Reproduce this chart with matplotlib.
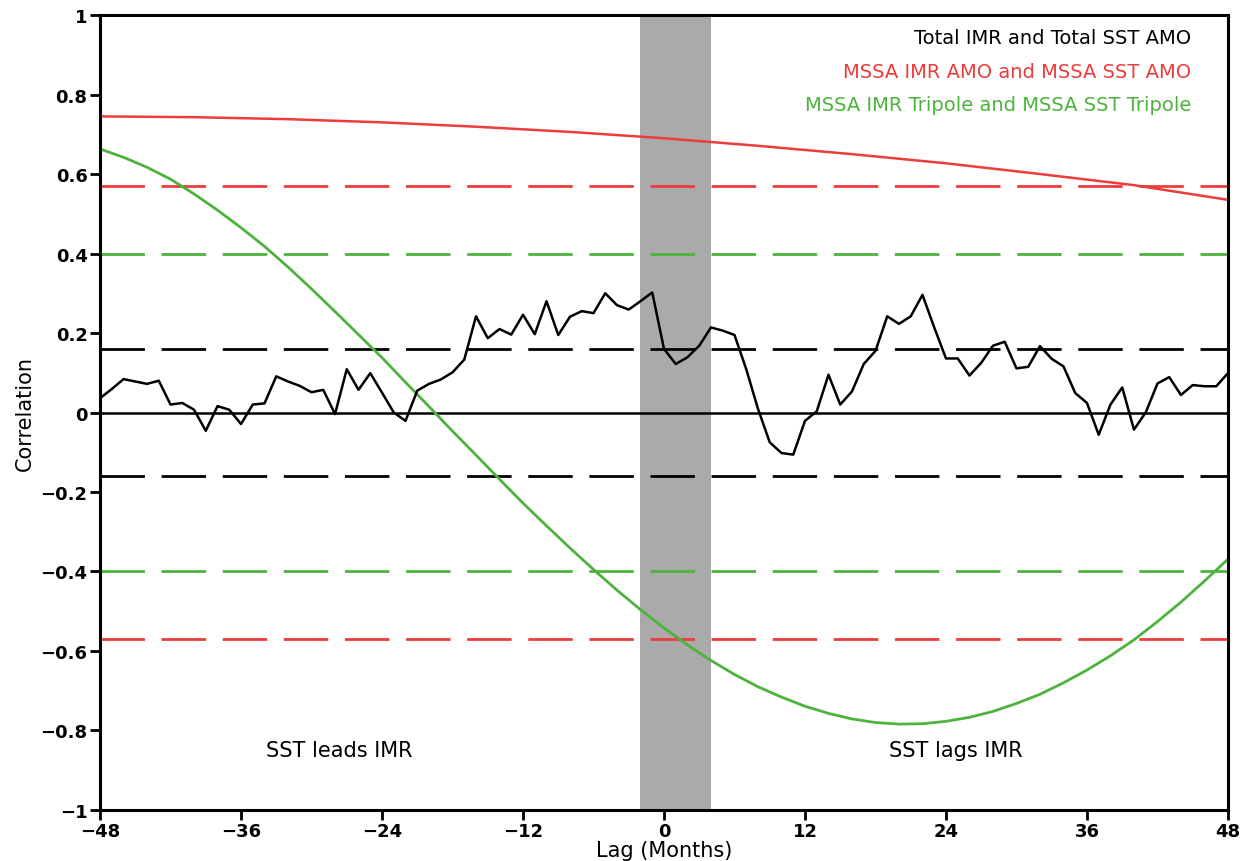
import numpy as np
import matplotlib
matplotlib.use("Agg")
import matplotlib.pyplot as plt
from matplotlib.ticker import FuncFormatter

# lag in months for the total correlation
lags_total = np.arange(-48, 49)
corr_total = [0.036, 0.059, 0.084, 0.078, 0.072, 0.080, 0.020, 0.024, 0.007, -0.046,
              0.016, 0.007, -0.029, 0.020, 0.023, 0.091, 0.078, 0.067, 0.051, 0.057,
              -0.004, 0.109, 0.057, 0.099, 0.050, 0.000, -0.021, 0.055, 0.072, 0.083,
              0.101, 0.133, 0.242, 0.187, 0.210, 0.196, 0.246, 0.197, 0.280, 0.195,
              0.241, 0.255, 0.250, 0.300, 0.270, 0.259, 0.280, 0.302, 0.160, 0.122,
              0.139, 0.168, 0.214, 0.206, 0.195, 0.109, 0.009, -0.075, -0.102, -0.106,
              -0.021, 0.003, 0.095, 0.020, 0.053, 0.122, 0.155, 0.242, 0.223, 0.242,
              0.296, 0.214, 0.136, 0.136, 0.093, 0.125, 0.168, 0.178, 0.111, 0.115,
              0.167, 0.135, 0.116, 0.049, 0.024, -0.056, 0.020, 0.063, -0.043, 0.000,
              0.073, 0.089, 0.044, 0.069, 0.066, 0.066, 0.099]

# MSSA AMO (smooth)
lags_amo = [-48, -40, -32, -24, -16, -8, 0, 8, 16, 24, 32, 40, 48]
corr_amo = [0.745, 0.743, 0.738, 0.730, 0.719, 0.706, 0.690, 0.671, 0.650, 0.627,
            0.600, 0.572, 0.535]

# MSSA tripole (smooth), every 2 months
lags_tri = np.arange(-48, 49, 2)
corr_tri = [0.663, 0.642, 0.617, 0.587, 0.550, 0.509, 0.465, 0.418, 0.366, 0.311,
            0.254, 0.196, 0.138, 0.076, 0.015, -0.047, -0.107, -0.168, -0.228, -0.285,
            -0.341, -0.395, -0.447, -0.496, -0.542, -0.585, -0.624, -0.659, -0.690,
            -0.716, -0.739, -0.757, -0.771, -0.780, -0.784, -0.783, -0.777, -0.767,
            -0.752, -0.732, -0.709, -0.680, -0.648, -0.612, -0.572, -0.526, -0.477,
            -0.424, -0.369]

# significance levels
sig_total = 0.16
sig_amo = 0.57
sig_tri = 0.40

shade_lag = [-2, 4]

legend_labels = ["Total IMR and Total SST AMO",
                 "MSSA IMR AMO and MSSA SST AMO",
                 "MSSA IMR Tripole and MSSA SST Tripole"]

red = "#ee3b3b"
green = "#4db33d"

fig = plt.figure(figsize=(12.41, 8.62), dpi=100)
ax = fig.add_axes([0.0806, 0.0592, 0.9089, 0.9222])

ax.axvspan(shade_lag[0], shade_lag[1], color="#aaaaaa", lw=0, zorder=0)

dash = (0, (16, 6))
for lev, col in [(sig_amo, red), (sig_tri, green), (sig_total, "black")]:
    ax.axhline(lev, color=col, lw=2.0, ls=dash, zorder=1)
    ax.axhline(-lev, color=col, lw=2.0, ls=dash, zorder=1)
ax.axhline(0, color="black", lw=1.8, zorder=1)

ax.plot(lags_amo, corr_amo, color=red, lw=1.8, zorder=2)
ax.plot(lags_tri, corr_tri, color=green, lw=2.0, zorder=2)
ax.plot(lags_total, corr_total, color="black", lw=1.8, zorder=3)

ax.set_xlim(-48, 48)
ax.set_ylim(-1, 1)
ax.set_xticks(np.arange(-48, 49, 12))
ax.set_yticks(np.arange(-1, 1.01, 0.2))

fmt = FuncFormatter(lambda v, p: ("%g" % (round(v, 2) + 0.0)).replace("-", "\u2212"))
ax.xaxis.set_major_formatter(fmt)
ax.yaxis.set_major_formatter(fmt)
ax.tick_params(direction="out", length=7, width=2, labelsize=13, pad=2)
for lab in ax.get_xticklabels() + ax.get_yticklabels():
    lab.set_fontweight("bold")

for sp in ax.spines.values():
    sp.set_linewidth(2.2)

ax.set_xlabel("Lag (Months)", fontsize=15, labelpad=0)
ax.set_ylabel("Correlation", fontsize=15, labelpad=4)

# legend as coloured text
for i, (txt, col) in enumerate(zip(legend_labels, ["black", red, green])):
    ax.text(0.9675, 0.972 - i * 0.0425, txt, color=col, fontsize=14,
            ha="right", va="center", transform=ax.transAxes)

ax.text(-27.6, -0.85, "SST leads IMR", fontsize=15, ha="center", va="center")
ax.text(24.8, -0.85, "SST lags IMR", fontsize=15, ha="center", va="center")

fig.savefig("out.png", dpi=100)
